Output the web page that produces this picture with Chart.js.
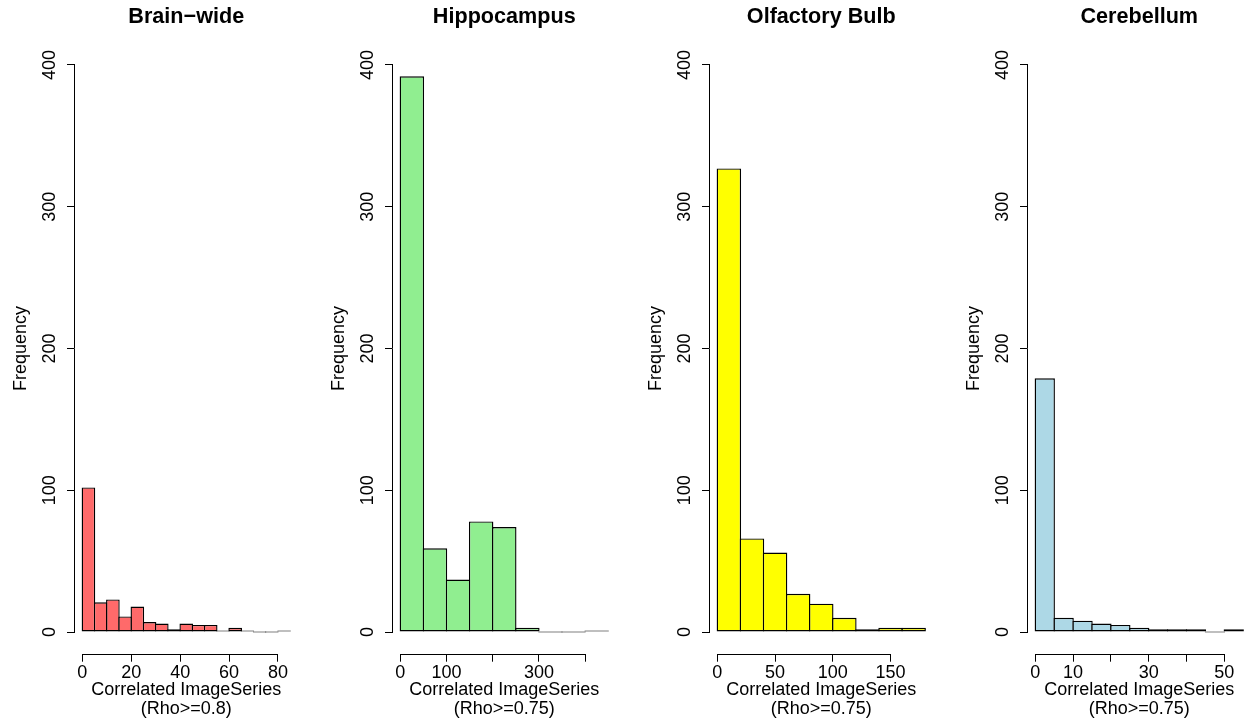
<!DOCTYPE html>
<html>
<head>
<meta charset="utf-8">
<script src="https://cdn.jsdelivr.net/npm/chart.js@4.4.1/dist/chart.umd.min.js"></script>
<style>
html,body{margin:0;padding:0;background:#fff;}
body{width:1250px;height:722px;overflow:hidden;position:relative;}
canvas{position:absolute;top:0;}
</style>
</head>
<body>
<canvas id="c0" width="318" height="722"></canvas>
<canvas id="c1" width="318" height="722"></canvas>
<canvas id="c2" width="318" height="722"></canvas>
<canvas id="c3" width="318" height="722"></canvas>
<script>
// ---------------- data ----------------
const panelTitles = ['Brain\u2212wide', 'Hippocampus', 'Olfactory Bulb', 'Cerebellum'];
const xTitle = 'Correlated ImageSeries';
const rhoLabels = ['(Rho>=0.8)', '(Rho>=0.75)', '(Rho>=0.75)', '(Rho>=0.75)'];
const yTitle = 'Frequency';

const brainBreaks = [0,5,10,15,20,25,30,35,40,45,50,55,60,65,70,75,80,85];
const brainCounts = [102,21,23,11,18,7,6,2,6,5,5,1,3,1,0,0,1];
const hippoBreaks = [0,50,100,150,200,250,300,350,400,450];
const hippoCounts = [392,59,37,78,74,3,0,0,1];
const olfBreaks = [0,20,40,60,80,100,120,140,160,180];
const olfCounts = [327,66,56,27,20,10,2,3,3];
const cerebBreaks = [0,5,10,15,20,25,30,35,40,45,50,55];
const cerebCounts = [179,10,8,6,5,3,2,2,2,0,2];

const brainXTicks = [0,20,40,60,80];
const brainXTickLabels = ['0','20','40','60','80'];
const hippoXTicks = [0,100,200,300,400];
const hippoXTickLabels = ['0','100','','300',''];
const olfXTicks = [0,50,100,150];
const olfXTickLabels = ['0','50','100','150'];
const cerebXTicks = [0,10,20,30,40,50];
const cerebXTickLabels = ['0','10','','30','','50'];

const yTicks = [0,100,200,300,400];
const yTickLabels = ['0','100','200','300','400'];
const yLimit = [0, 400];

const barColors = ['#FF6A6A', '#90EE90', '#FFFF00', '#ADD8E6'];

// ---------------- layout / style ----------------
const FONT = '"Liberation Sans", Arial, Helvetica, sans-serif';
const canvasLefts = [0, 318, 635.4, 953];
const CANVAS_W = 318, CANVAS_H = 722;
const LEFT_W = 74, RIGHT_PAD = 19.5, BOTTOM_H = 67.3;
const PLOT_W = CANVAS_W - LEFT_W - RIGHT_PAD;
const BAR_BORDER = 1.4;

const panels = [
  {breaks: brainBreaks, counts: brainCounts, xTicks: brainXTicks, xLabels: brainXTickLabels},
  {breaks: hippoBreaks, counts: hippoCounts, xTicks: hippoXTicks, xLabels: hippoXTickLabels},
  {breaks: olfBreaks, counts: olfCounts, xTicks: olfXTicks, xLabels: olfXTickLabels},
  {breaks: cerebBreaks, counts: cerebCounts, xTicks: cerebXTicks, xLabels: cerebXTickLabels}
];

const alignPx = p => Math.round(p - 0.5) + 0.5;

const rAxisLines = {
  id: 'rAxisLines',
  afterDraw(chart) {
    const {ctx, chartArea, scales} = chart;
    const x = scales.x, y = scales.y;
    ctx.save();
    ctx.strokeStyle = '#000';
    ctx.lineWidth = 1;
    ctx.beginPath();
    const yb = alignPx(chartArea.bottom);
    ctx.moveTo(alignPx(x.getPixelForValue(x.ticks[0].value)) - 0.5, yb);
    ctx.lineTo(alignPx(x.getPixelForValue(x.ticks[x.ticks.length - 1].value)) + 0.5, yb);
    const xl = alignPx(chartArea.left);
    ctx.moveTo(xl, alignPx(y.getPixelForValue(y.ticks[0].value)) + 0.5);
    ctx.lineTo(xl, alignPx(y.getPixelForValue(y.ticks[y.ticks.length - 1].value)) - 0.5);
    ctx.stroke();
    ctx.restore();
  }
};

panels.forEach((p, i) => {
  const canvas = document.getElementById('c' + i);
  canvas.style.left = canvasLefts[i] + 'px';
  const lo = p.breaks[0], hi = p.breaks[p.breaks.length - 1];
  const ext = (hi - lo) * 0.04;
  const yExt = (yLimit[1] - yLimit[0]) * 0.04;
  const points = p.counts.map((c, k) => ({x: (p.breaks[k] + p.breaks[k + 1]) / 2, y: c}));
  const binPx = PLOT_W * (p.breaks[1] - p.breaks[0]) / (hi - lo + 2 * ext);

  new Chart(canvas, {
    type: 'bar',
    data: {
      datasets: [{
        data: points,
        backgroundColor: barColors[i],
        borderColor: '#000',
        borderWidth: BAR_BORDER,
        borderSkipped: false,
        minBarLength: 1.2,
        barPercentage: 1 + BAR_BORDER / binPx,
        categoryPercentage: 1
      }]
    },
    plugins: [rAxisLines],
    options: {
      responsive: false,
      animation: false,
      events: [],
      layout: {padding: {left: 0, right: RIGHT_PAD, top: 0, bottom: 0}},
      plugins: {
        legend: {display: false},
        tooltip: {enabled: false},
        title: {
          display: true,
          fullSize: false,
          text: panelTitles[i],
          color: '#000',
          font: {family: FONT, size: 21.6, weight: 'bold', lineHeight: 1.2},
          padding: {top: 3.7, bottom: 12.6}
        }
      },
      scales: {
        x: {
          type: 'linear',
          min: lo - ext,
          max: hi + ext,
          offset: false,
          afterBuildTicks: s => { s.ticks = p.xTicks.map(v => ({value: v})); },
          afterFit: s => { s.height = BOTTOM_H; },
          border: {display: false},
          grid: {display: true, offset: false, drawOnChartArea: false, drawTicks: true, tickLength: 7, color: '#000', lineWidth: 1},
          ticks: {
            autoSkip: false, maxRotation: 0, minRotation: 0, padding: 2,
            color: '#000',
            font: {family: FONT, size: 18, lineHeight: 1},
            callback: (v, k) => p.xLabels[k]
          },
          title: {
            display: true,
            text: [xTitle, rhoLabels[i]],
            color: '#000',
            font: {family: FONT, size: 18, lineHeight: 1.04},
            padding: {top: 0, bottom: 4}
          }
        },
        y: {
          type: 'linear',
          min: yLimit[0] - yExt,
          max: yLimit[1] + yExt,
          afterBuildTicks: s => { s.ticks = yTicks.map(v => ({value: v})); },
          afterFit: s => { s.width = LEFT_W; },
          border: {display: false},
          grid: {display: true, drawOnChartArea: false, drawTicks: true, tickLength: 7, color: '#000', lineWidth: 1},
          ticks: {
            autoSkip: false, minRotation: 90, maxRotation: 90, padding: 2,
            crossAlign: 'center',
            color: '#000',
            font: {family: FONT, size: 18, lineHeight: 1.2},
            callback: (v, k) => yTickLabels[k]
          },
          title: {
            display: true,
            text: yTitle,
            color: '#000',
            font: {family: FONT, size: 18, lineHeight: 1.04},
            padding: {top: 11.5, bottom: 0}
          }
        }
      }
    }
  });
});
</script>
</body>
</html>
